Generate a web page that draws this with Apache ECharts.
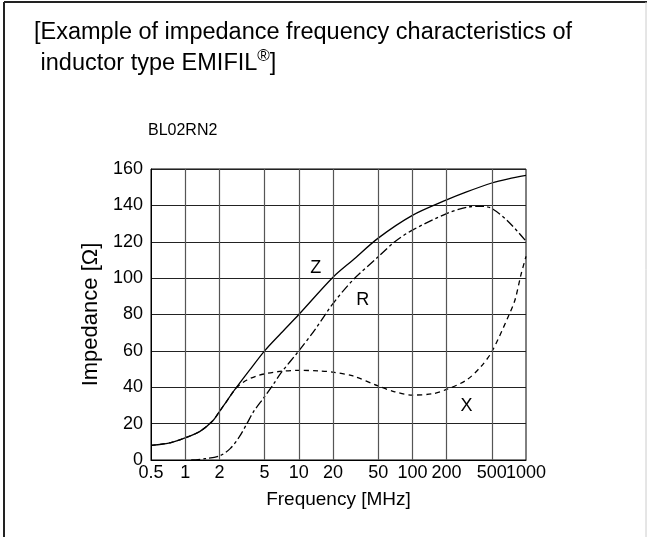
<!DOCTYPE html>
<html>
<head>
<meta charset="utf-8">
<script src="https://cdn.jsdelivr.net/npm/echarts@6/dist/echarts.min.js"></script>
<style>html,body{margin:0;padding:0;background:#fff;}#c{width:647px;height:537px;}</style>
</head>
<body>
<div id="c"></div>
<script>
// ---- data ----
var xTicks = [0.5, 1, 2, 5, 10, 20, 50, 100, 200, 500, 1000];
var zFreq = [0.5, 0.75, 1, 1.34, 1.75, 2, 2.3, 2.72, 3.7, 5, 7, 10, 20, 30, 50, 100, 200, 300, 500, 700, 1000];
var zVal  = [8, 9.6, 12.2, 15.6, 21.6, 26.6, 32, 38.5, 49.5, 60, 69.8, 80, 100.5, 110, 122, 134.5, 143, 147.4, 152.3, 154.6, 156.5];
var rFreq = [1.13, 1.5, 2, 2.5, 3, 3.5, 4, 5, 6, 7, 10, 14, 20, 30, 50, 70, 100, 200, 300, 400, 500, 700, 1000];
var rVal  = [0, 0.7, 2.2, 6.4, 12.8, 20.1, 26.6, 34.8, 41.8, 48, 60, 72, 86, 99, 111.7, 120, 126.4, 135.5, 139, 139.5, 138.3, 131, 120.3];
var xFreq = [0.5, 0.75, 1, 1.34, 1.75, 2, 2.3, 2.72, 3, 3.5, 4.5, 6.8, 10, 15, 20, 30, 50, 70, 100, 150, 200, 300, 400, 500, 700, 800, 900, 1000];
var xVal  = [8, 9.6, 12.2, 15.6, 21.6, 26.6, 32, 38.5, 41.2, 44, 46.7, 48.7, 49.3, 49, 48.3, 46.2, 40.7, 37.5, 35.7, 36.4, 38.8, 44, 51.3, 59.5, 79, 88, 101.5, 112];
var yTicks = {min: 0, max: 160, interval: 20};
var curveLabels = [
  {name: 'Z', coord: [14.1, 105.5]},
  {name: 'R', coord: [36.5, 88]},
  {name: 'X', coord: [300, 29.7]}
];

function pairs(f, v) { return f.map(function (x, i) { return [x, v[i]]; }); }

var FONT = 'Liberation Sans, Arial, sans-serif';
var chart = echarts.init(document.getElementById('c'), null, {renderer: 'canvas'});

function labelPoint(item) {
  return {
    coord: item.coord, value: item.name,
    symbol: 'circle', symbolSize: 1,
    itemStyle: {color: 'rgba(0,0,0,0)'},
    label: {show: true, position: 'inside', formatter: item.name, color: '#000', fontSize: 18, fontFamily: FONT}
  };
}

var option = {
  animation: false,
  backgroundColor: '#fff',
  title: {
    text: '[Example of impedance frequency characteristics of\n inductor type EMIFIL{sup|®}]',
    left: 29, top: 12,
    textStyle: {
      fontSize: 23.5, fontWeight: 'normal', color: '#000', fontFamily: FONT, lineHeight: 31,
      rich: {sup: {fontSize: 17, verticalAlign: 'top', color: '#000', fontFamily: FONT}}
    }
  },
  graphic: [
    {type: 'line', shape: {x1: 4, y1: 2, x2: 4, y2: 537}, style: {stroke: '#222', lineWidth: 2}},
    {type: 'line', shape: {x1: 4, y1: 2, x2: 647, y2: 2}, style: {stroke: '#222', lineWidth: 2}},
    {type: 'line', shape: {x1: 646, y1: 2, x2: 646, y2: 537}, style: {stroke: '#ccc', lineWidth: 1}},
    {type: 'text', left: 148, top: 123, style: {text: 'BL02RN2', fontSize: 16, fill: '#000', fontFamily: FONT}}
  ],
  grid: {left: 151, top: 169, width: 375, height: 291, show: true, borderColor: '#000', borderWidth: 1, containLabel: false},
  xAxis: {
    type: 'log', logBase: 10, min: xTicks[0], max: xTicks[xTicks.length - 1],
    axisLine: {show: true, lineStyle: {color: '#000', width: 1}},
    axisTick: {show: false}, axisLabel: {show: false}, splitLine: {show: false}, minorTick: {show: false},
    name: 'Frequency [MHz]', nameLocation: 'middle', nameGap: 30,
    nameTextStyle: {fontSize: 19, color: '#000', fontFamily: FONT}
  },
  yAxis: {
    type: 'value', min: yTicks.min, max: yTicks.max, interval: yTicks.interval,
    axisLine: {show: true, lineStyle: {color: '#000', width: 1}},
    axisTick: {show: false},
    axisLabel: {fontSize: 18, color: '#000', fontFamily: FONT, margin: 8},
    splitLine: {show: true, lineStyle: {color: '#222', width: 1.2}},
    name: 'Impedance [Ω]', nameLocation: 'middle', nameGap: 45,
    nameTextStyle: {fontSize: 22, color: '#000', fontFamily: FONT}
  },
  series: [
    {
      name: 'X', type: 'line', data: pairs(xFreq, xVal), smooth: 0.3, showSymbol: false, z: 3,
      lineStyle: {color: '#000', width: 1.3, type: [5, 4]},
      markPoint: {silent: true, data: [labelPoint(curveLabels[2])]}
    },
    {
      name: 'R', type: 'line', data: pairs(rFreq, rVal), smooth: 0.3, showSymbol: false, z: 3,
      lineStyle: {color: '#000', width: 1.3, type: [9, 3, 3, 3]},
      markPoint: {silent: true, data: [labelPoint(curveLabels[1])]}
    },
    {
      name: 'Z', type: 'line', data: pairs(zFreq, zVal), smooth: 0.3, showSymbol: false, z: 4,
      lineStyle: {color: '#000', width: 1.3, type: 'solid'},
      markPoint: {silent: true, data: [labelPoint(curveLabels[0])].concat(xTicks.map(function (t) {
        return {
          coord: [t, yTicks.min], value: t, symbol: 'circle', symbolSize: 1,
          itemStyle: {color: 'rgba(0,0,0,0)'},
          label: {show: true, position: 'bottom', distance: 4, formatter: String(t), color: '#000', fontSize: 18, fontFamily: FONT}
        };
      }))},
      markLine: {
        silent: true, symbol: ['none', 'none'], animation: false,
        label: {show: false},
        lineStyle: {color: '#555', width: 1.2, type: 'solid'},
        data: xTicks.slice(1, xTicks.length - 1).map(function (t) { return {xAxis: t}; })
      }
    }
  ]
};
chart.setOption(option);
</script>
</body>
</html>
